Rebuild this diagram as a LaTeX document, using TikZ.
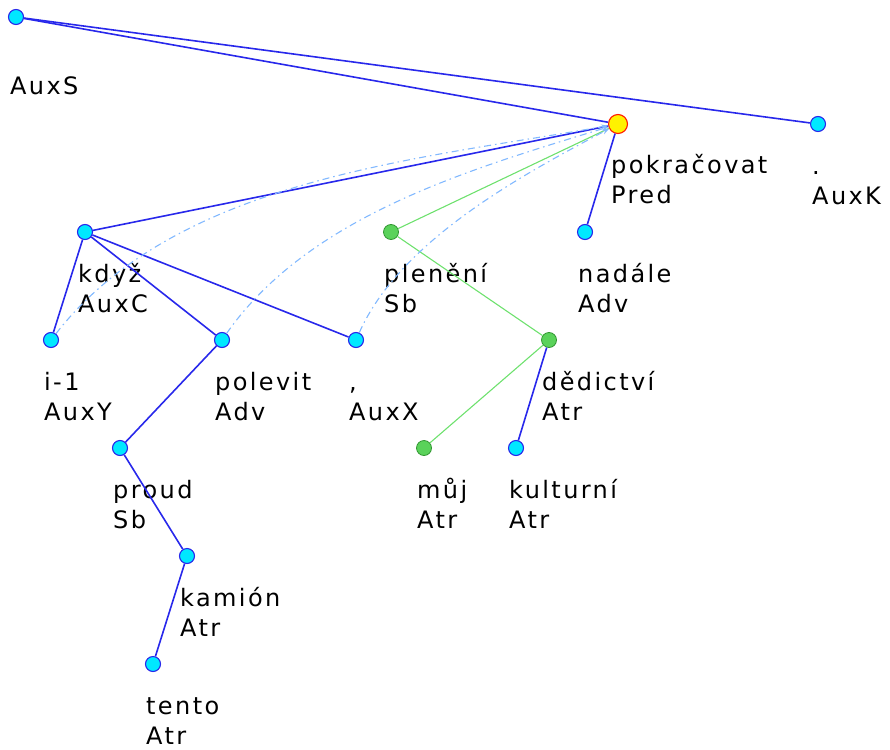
\documentclass[tikz,border=0pt]{standalone}
\usepackage{fontspec}
\newfontfamily\tredfont[LetterSpace=10]{DejaVu Sans}
\usetikzlibrary{arrows.meta}

\definecolor{edgeblue}{RGB}{40,40,235}
\definecolor{edgegreen}{RGB}{110,225,110}
\definecolor{corefblue}{RGB}{130,185,255}
\definecolor{nodecyan}{RGB}{0,232,255}
\definecolor{nodegreen}{RGB}{90,210,90}
\definecolor{nodegreendark}{RGB}{50,150,50}

\begin{document}
\begin{tikzpicture}[x=1pt, y=-1pt]
	\tikzset{
		tnode/.style={circle, draw=edgeblue, fill=nodecyan, line width=1.1pt, minimum size=15pt, inner sep=0pt},
		gnode/.style={circle, draw=nodegreendark, fill=nodegreen, line width=0.8pt, minimum size=15pt, inner sep=0pt},
		rootnode/.style={circle, draw=red!80!orange, fill=yellow, line width=1.1pt, minimum size=19pt, inner sep=0pt},
		lbl/.style={anchor=base west, align=left, inner sep=0pt, font=\tredfont\fontsize{24}{30}\selectfont},
		bedge/.style={draw=edgeblue, line width=1.6pt},
		gedge/.style={draw=edgegreen, line width=1.1pt},
		coref/.style={draw=corefblue, line width=1.1pt, dash pattern=on 7pt off 4pt on 1.5pt off 4pt, -{Stealth[length=7pt,width=5pt]}},
	}
	\useasboundingbox (0,0) rectangle (890,749);

	% nodes of the tree
	\node[tnode] (auxs) at (16,17) {};
	\node[rootnode] (pokr) at (618,124) {};
	\node[tnode] (auxk) at (818,124) {};
	\node[tnode] (kdyz) at (85,232) {};
	\node[gnode] (pleneni) at (391,232) {};
	\node[tnode] (nadale) at (585,232) {};
	\node[tnode] (ione) at (51,340) {};
	\node[tnode] (polevit) at (222,340) {};
	\node[tnode] (comma) at (356,340) {};
	\node[gnode] (dedictvi) at (549,340) {};
	\node[tnode] (proud) at (120,448) {};
	\node[gnode] (muj) at (424,448) {};
	\node[tnode] (kulturni) at (516,448) {};
	\node[tnode] (kamion) at (187,556) {};
	\node[tnode] (tento) at (153,664) {};

	% labels
	\node[lbl] (auxslbl) at ([xshift=-6pt,yshift=-78pt]auxs.center) {AuxS};
	\node[lbl] (pokrlbl) at ([xshift=-7pt,yshift=-79pt]pokr.center) {pokračovat\\Pred};
	\node[lbl] (auxklbl) at ([xshift=-6pt,yshift=-80pt]auxk.center) {.\\AuxK};
	\node[lbl] (kdyzlbl) at ([xshift=-7pt,yshift=-80pt]kdyz.center) {když\\AuxC};
	\node[lbl] (plenenilbl) at ([xshift=-7pt,yshift=-80pt]pleneni.center) {plenění\\Sb};
	\node[lbl] (nadalelbl) at ([xshift=-7pt,yshift=-80pt]nadale.center) {nadále\\Adv};
	\node[lbl] (ionelbl) at ([xshift=-7pt,yshift=-80pt]ione.center) {i-1\\AuxY};
	\node[lbl] (polevitlbl) at ([xshift=-7pt,yshift=-80pt]polevit.center) {polevit\\Adv};
	\node[lbl] (commalbl) at ([xshift=-7pt,yshift=-80pt]comma.center) {,\\AuxX};
	\node[lbl] (dedictvilbl) at ([xshift=-7pt,yshift=-80pt]dedictvi.center) {dědictví\\Atr};
	\node[lbl] (proudlbl) at ([xshift=-7pt,yshift=-80pt]proud.center) {proud\\Sb};
	\node[lbl] (mujlbl) at ([xshift=-7pt,yshift=-80pt]muj.center) {můj\\Atr};
	\node[lbl] (kulturnilbl) at ([xshift=-7pt,yshift=-80pt]kulturni.center) {kulturní\\Atr};
	\node[lbl] (kamionlbl) at ([xshift=-7pt,yshift=-80pt]kamion.center) {kamión\\Atr};
	\node[lbl] (tentolbl) at ([xshift=-7pt,yshift=-80pt]tento.center) {tento\\Atr};

	% edges
	\draw[bedge] (auxs) -- (pokr);
	\draw[bedge] (auxs) -- (auxk);
	\draw[bedge] (pokr) -- (kdyz);
	\draw[bedge] (pokr) -- (nadale);
	\draw[gedge] (pokr) -- (pleneni);
	\draw[bedge] (kdyz) -- (ione);
	\draw[bedge] (kdyz) -- (polevit);
	\draw[bedge] (kdyz) -- (comma);
	\draw[gedge] (pleneni) -- (dedictvi);
	\draw[bedge] (polevit) -- (proud);
	\draw[gedge] (dedictvi) -- (muj);
	\draw[bedge] (dedictvi) -- (kulturni);
	\draw[bedge] (proud) -- (kamion);
	\draw[bedge] (kamion) -- (tento);

	% coreference arcs
	\draw[coref] (ione) to[out=52, in=190, looseness=0.85] (pokr);
	\draw[coref] (polevit) to[out=55, in=197, looseness=0.85] (pokr);
	\draw[coref] (comma) to[out=66, in=208, looseness=0.8] (pokr);
\end{tikzpicture}
\end{document}
